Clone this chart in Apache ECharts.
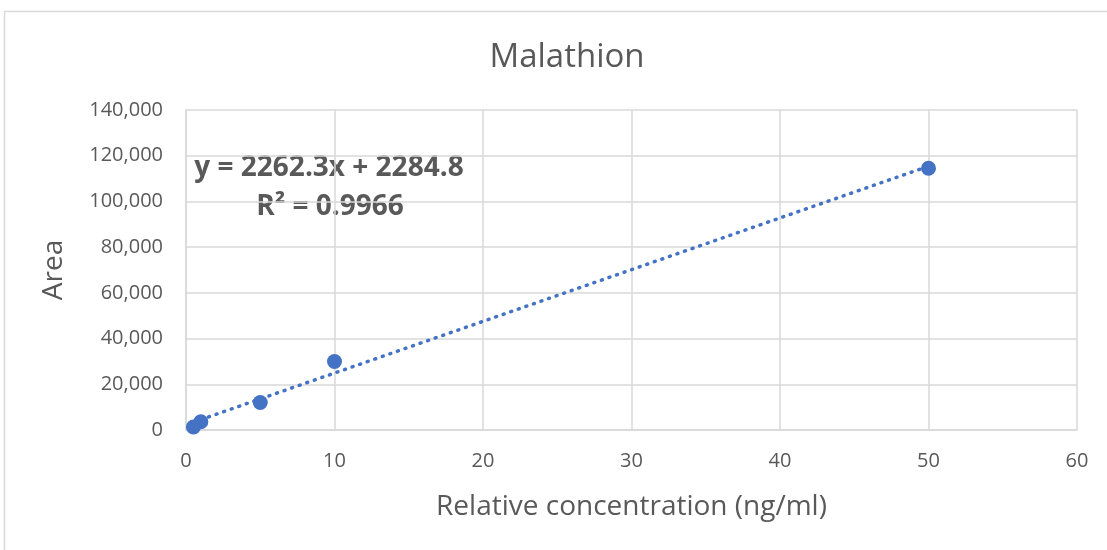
<!DOCTYPE html>
<html><head><meta charset="utf-8">
<script src="https://cdn.jsdelivr.net/npm/echarts@6/dist/echarts.min.js"></script>
<style>html,body{margin:0;padding:0;background:#fff}#c{width:1107px;height:550px}</style>
</head><body><div id="c"></div>
<script>
const concentrations = [0.5, 1, 5, 10, 50];
const areas = [1300, 3600, 12000, 30000, 114500];
const slope = 2262.3;
const intercept = 2284.8;
const rSquared = 0.9966;
const xTicks = [0, 10, 20, 30, 40, 50, 60];
const yTicks = [0, 20000, 40000, 60000, 80000, 100000, 120000, 140000];

const FONT = 'Open Sans';
const points = concentrations.map((x, i) => [x, areas[i]]);
const xMin = Math.min(...concentrations), xMax = Math.max(...concentrations);
const trend = [[xMin, slope * xMin + intercept], [xMax, slope * xMax + intercept]];

const chart = echarts.init(document.getElementById('c'));
chart.setOption({
  animation: false,
  textStyle: { fontFamily: FONT },
  title: {
    text: 'Malathion', left: 562, top: 36, textAlign: 'center',
    textStyle: { fontFamily: FONT, fontSize: 33, fontWeight: 'normal', color: '#595959' }
  },
  grid: { left: 186, right: 30, top: 110, bottom: 120 },
  xAxis: {
    type: 'value', min: xTicks[0], max: xTicks[xTicks.length - 1], interval: 10,
    name: 'Relative concentration (ng/ml)', nameLocation: 'middle', nameGap: 63,
    nameTextStyle: { fontFamily: FONT, fontSize: 28, color: '#595959' },
    axisLine: { show: true, lineStyle: { color: '#d9d9d9', width: 1.5 } },
    axisTick: { show: false },
    axisLabel: { fontFamily: FONT, fontSize: 20, color: '#595959', margin: 21 },
    splitLine: { show: true, lineStyle: { color: '#d9d9d9', width: 1.5 } }
  },
  yAxis: {
    type: 'value', min: yTicks[0], max: yTicks[yTicks.length - 1], interval: 20000,
    name: 'Area', nameLocation: 'middle', nameGap: 118, nameRotate: 90,
    nameTextStyle: { fontFamily: FONT, fontSize: 28, color: '#595959' },
    axisLine: { show: true, lineStyle: { color: '#d9d9d9', width: 1.5 } },
    axisTick: { show: false },
    axisLabel: {
      fontFamily: FONT, fontSize: 20, color: '#595959', margin: 23,
      formatter: v => v.toLocaleString('en-US')
    },
    splitLine: { show: true, lineStyle: { color: '#d9d9d9', width: 1.5 } }
  },
  series: [
    {
      type: 'line', data: trend, symbol: 'none', silent: true,
      lineStyle: { color: '#4472C4', width: 3.5, type: [1, 7], cap: 'round' }, z: 2
    },
    {
      type: 'scatter', data: points, symbol: 'circle', symbolSize: 15,
      itemStyle: { color: '#4472C4', opacity: 1 }, z: 3
    }
  ],
  graphic: [
    { type: 'rect', shape: { x: 4.5, y: 11.5, width: 1200, height: 600 },
      style: { fill: 'none', stroke: '#d9d9d9', lineWidth: 1.5 }, silent: true },
    { type: 'text', x: 329, y: 168,
      style: { text: 'y = ' + slope + 'x + ' + intercept, fontFamily: FONT, fontSize: 28, fontWeight: 'bold', fill: '#595959', align: 'center', verticalAlign: 'middle' } },
    { type: 'text', x: 330, y: 207,
      style: { text: 'R² = ' + rSquared, fontFamily: FONT, fontSize: 28, fontWeight: 'bold', fill: '#595959', align: 'center', verticalAlign: 'middle' } }
  ]
});
</script></body></html>
